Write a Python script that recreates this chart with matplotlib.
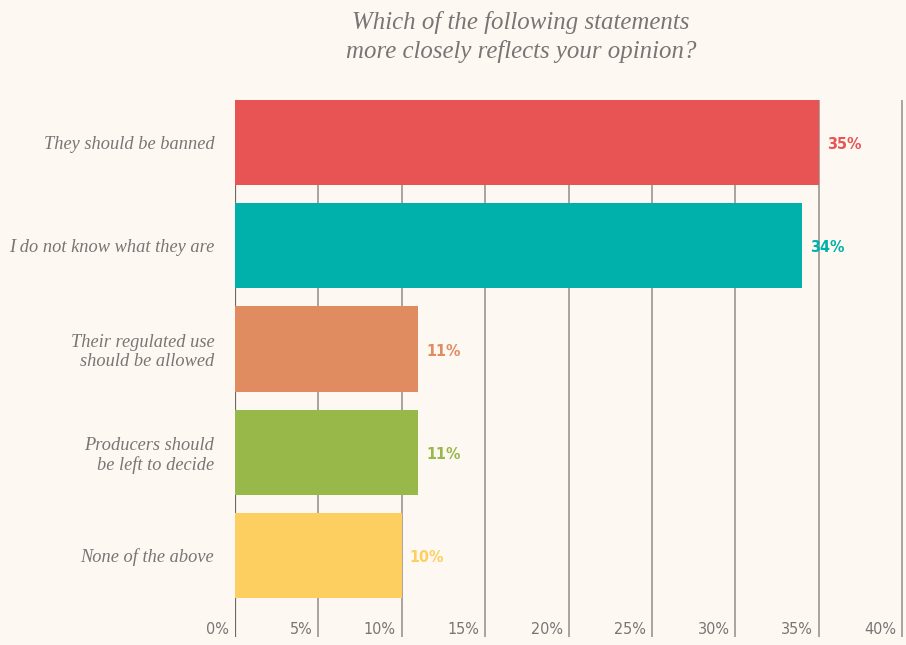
import numpy as np
import matplotlib
matplotlib.use("Agg")
import matplotlib.pyplot as plt
import matplotlib.transforms as mtransforms

# data
answers = ["They should be banned", "I do not know what they are",
           "Their regulated use\nshould be allowed", "Producers should\nbe left to decide",
           "None of the above"]
shares = [35, 34, 11, 11, 10]
colors = ["#E85353", "#00B0AA", "#E08B60", "#99B84A", "#FDCF60"]
ticks = [0, 5, 10, 15, 20, 25, 30, 35, 40]
tick_labels = ["0%", "5%", "10%", "15%", "20%", "25%", "30%", "35%", "40%"]

bg = "#FDF8F2"
grey = "#7A7574"
cond = dict(family="DejaVu Sans", stretch="condensed")

fig = plt.figure(figsize=(9.06, 6.45), dpi=100, facecolor=bg)
ax = fig.add_axes([0.2594, 0.0124, 0.7373, 0.8326])
ax.set_facecolor(bg)

y = np.arange(len(answers))
ax.barh(y, shares, height=0.825, color=colors, zorder=3)

ax.set_xlim(0, 40.05)
ax.set_ylim(4.79, -0.413)

for t in ticks:
    ax.axvline(t, color="#9A9592" if t else "#6E6A68", lw=1.2 if t else 1.6, zorder=2)

# tick labels sit inside the plot, just left of each gridline
off_l = mtransforms.offset_copy(ax.transData, fig=fig, x=-6, y=0, units="dots")
for t, lab in zip(ticks, tick_labels):
    ax.text(t, 4.72, lab, transform=off_l, ha="right", va="center",
            fontsize=11.5, color=grey, **cond)

# value labels
off_r = mtransforms.offset_copy(ax.transData, fig=fig, x=8, y=0, units="dots")
for yi, v, c in zip(y, shares, colors):
    ax.text(v, yi + 0.02, f"{v}%", transform=off_r, ha="left", va="center",
            fontsize=11.5, fontweight="bold", color=c, **cond)

ax.set_yticks(y)
ax.set_yticklabels(answers, fontsize=13.2, style="italic", family="Liberation Serif",
                   color=grey, linespacing=1.15)
ax.tick_params(axis="y", length=0, pad=15)
ax.set_xticks([])
for s in ax.spines.values():
    s.set_visible(False)

fig.text(0.575, 0.943, "Which of the following statements\nmore closely reflects your opinion?",
         ha="center", va="center", fontsize=17.9, style="italic", family="Liberation Serif",
         color=grey, linespacing=1.35)

fig.savefig("out.png", dpi=100, facecolor=bg)
